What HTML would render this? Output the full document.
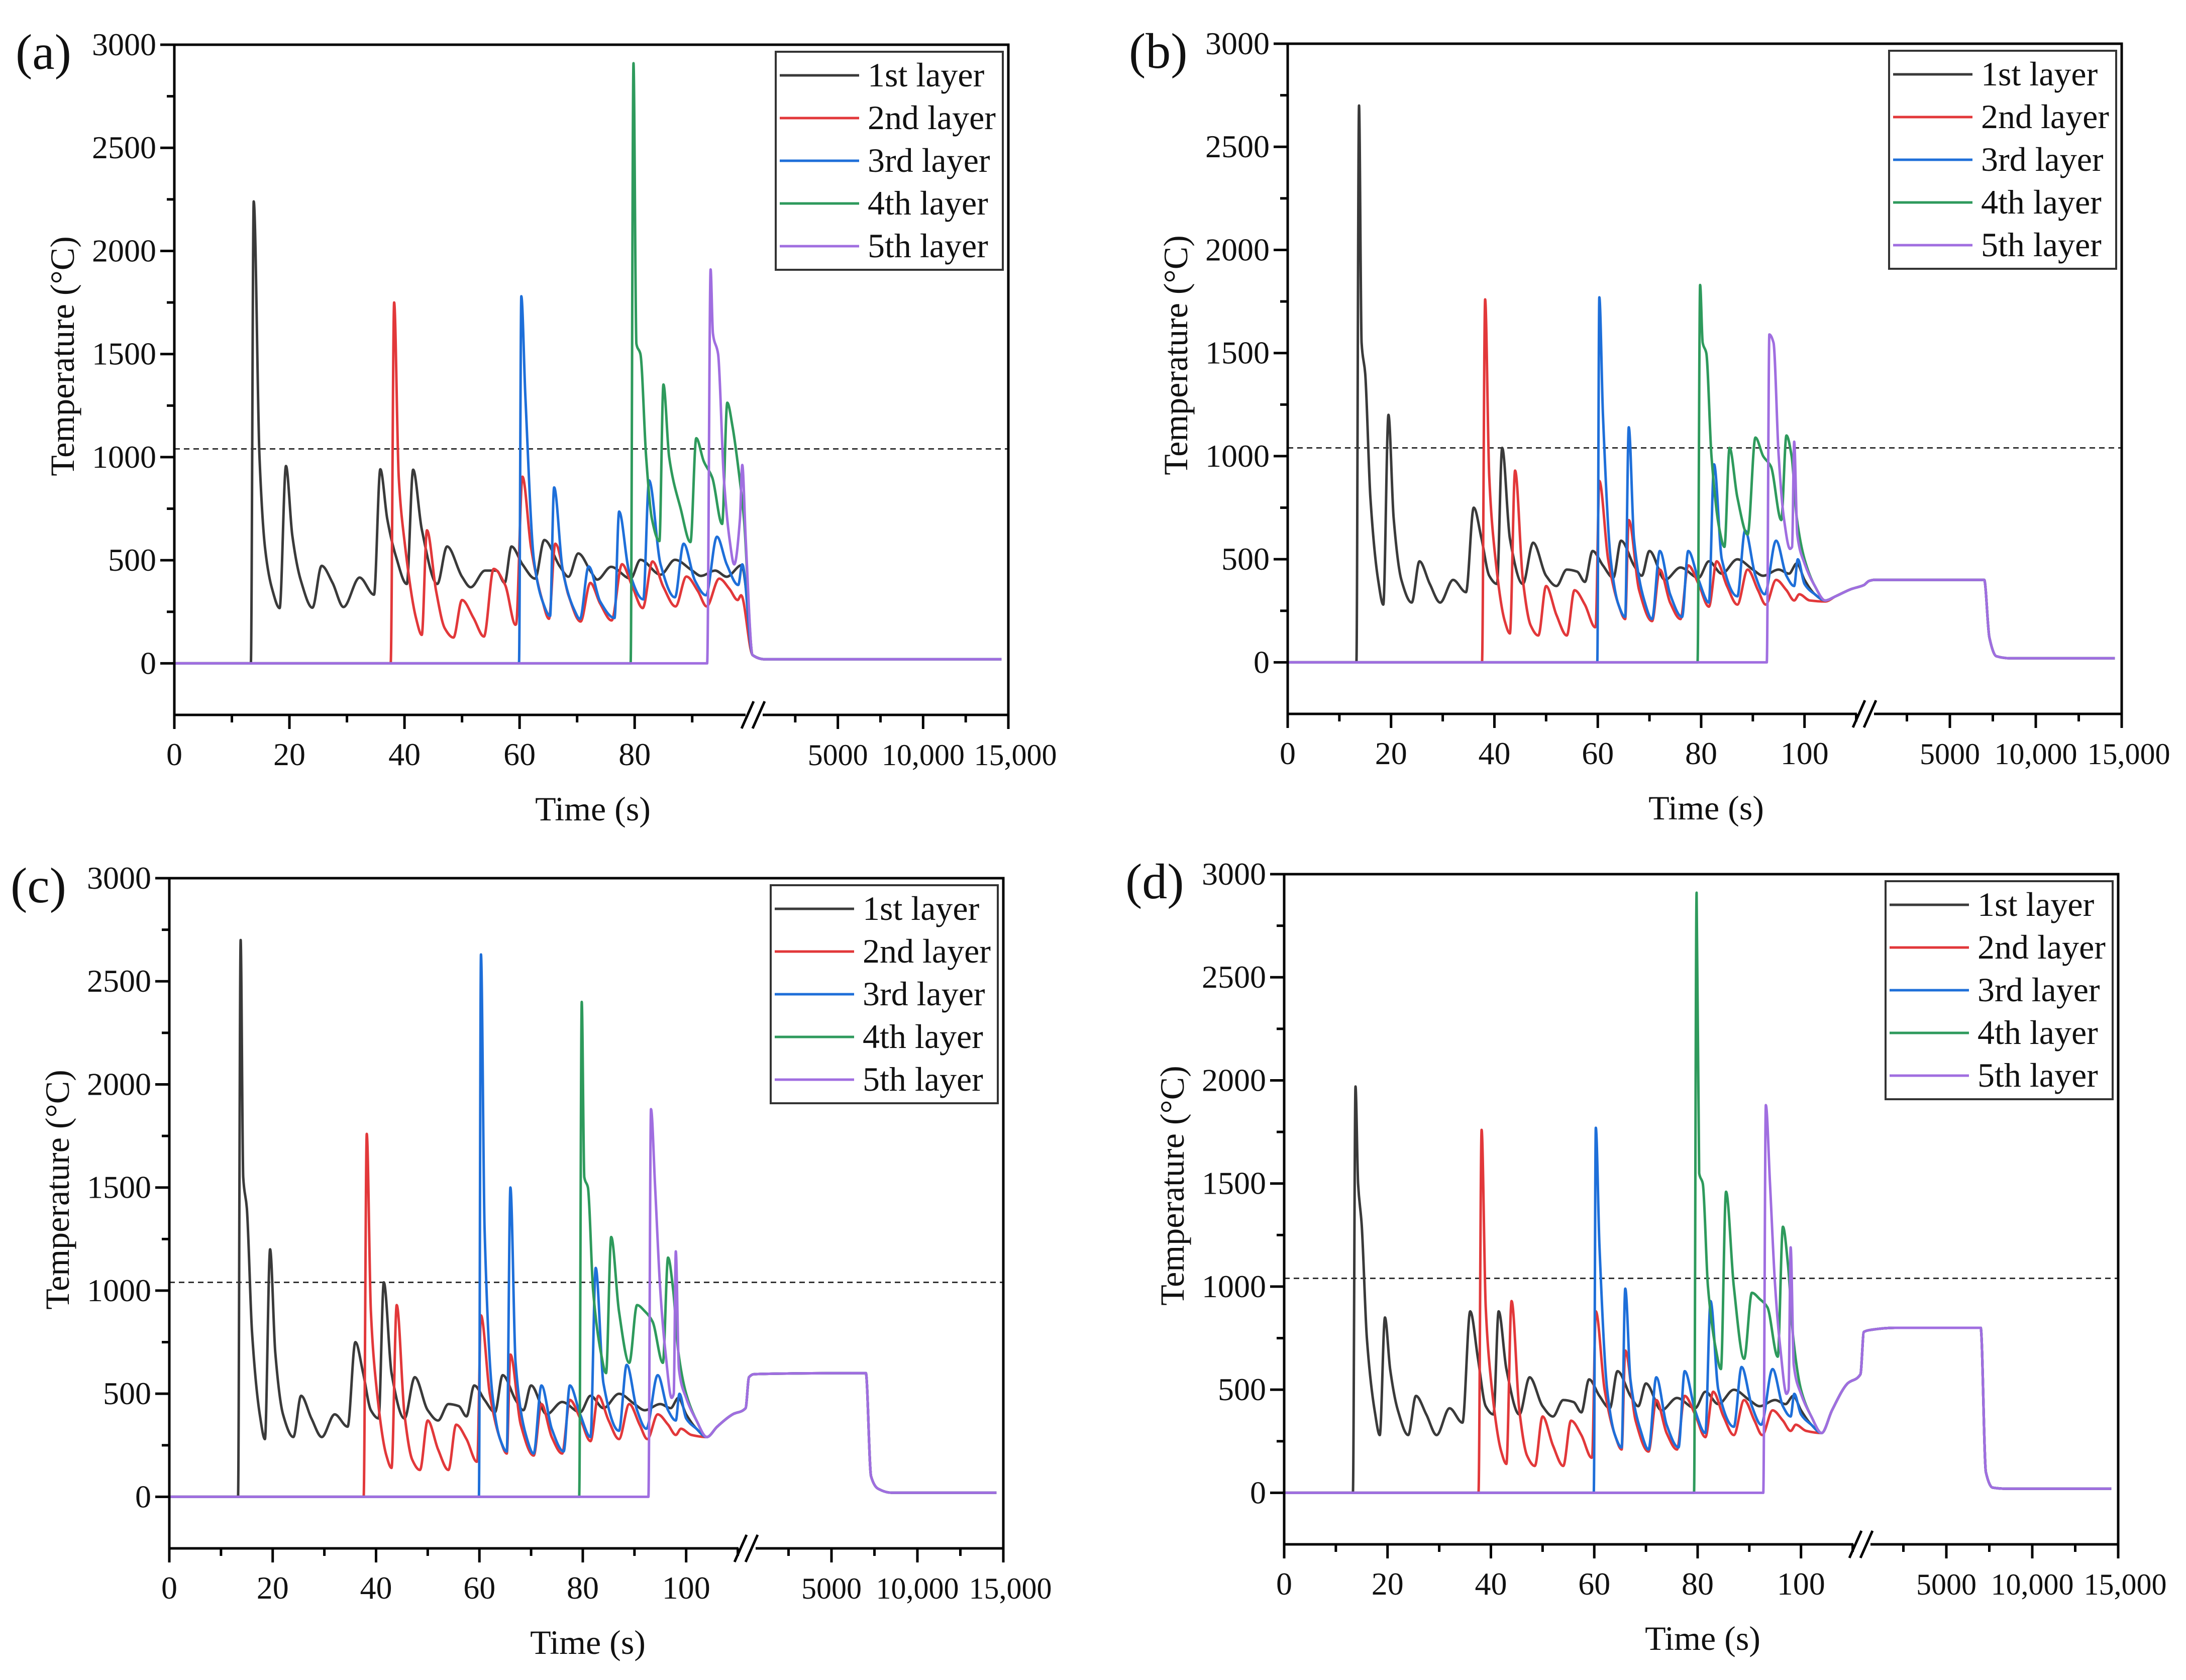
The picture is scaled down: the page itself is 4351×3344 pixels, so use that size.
<!DOCTYPE html>
<html><head><meta charset="utf-8">
<style>
html,body{margin:0;padding:0;background:#fff;}
svg{display:block;}
svg text{font-family:"Liberation Serif","Times New Roman",serif;}
</style></head>
<body>
<svg id="fig" width="4351" height="3344" viewBox="0 0 4351 3344" xmlns="http://www.w3.org/2000/svg" font-family="Liberation Serif, serif">
<rect width="4351" height="3344" fill="#fff"/>
</svg>
<script>
// ---------- data: panel (a) ----------
const aT1=[0,13.3,13.8,14.8,15.8,17,18.3,19.4,20.5,22,24,25.6,27.5,29.4,32.2,34.7,35.8,37,38.5,40.4,41.5,43,45.7,47.4,50,51.5,54,56,57.4,58.6,60.5,62.7,64.3,67,68.5,70.2,72.5,73.5,75.9,79.3,81,84.5,87,90,91.5,94,96,98.6,99.6,100.5];
const aV1=[0,0,2240,1000,550,360,268,957,620,400,270,473,390,273,416,333,941,700,520,385,939,650,385,567,420,369,450,450,390,567,480,411,598,470,420,533,440,406,468,411,502,430,502,450,424,450,420,476,300,40];
const aT2=[0,37.6,38.2,39,40,42,43,43.9,45.5,47,48.5,50,52,53.8,55.5,57.5,59.3,59.4,60.5,62,64,65.1,66.2,68.5,70.6,72.3,74,76,77.8,79.5,81.4,83.1,85,87.1,89,91,92.5,94.7,96.5,97.9,98.5,100.5];
const aV2=[0,0,1750,900,593,220,138,645,350,170,125,307,220,130,458,380,187,190,905,560,300,216,580,330,203,390,290,208,481,380,268,494,370,276,421,350,276,411,360,307,330,40];
const aT3=[0,59.9,60.3,61,62.5,64,65.3,66,67.5,69.5,70.5,72,74,76.5,77.3,79,81.5,82.5,84.5,87,88.5,90.5,92.4,94.3,96,98,98.7,100.5];
const aV3=[0,0,1780,1300,500,300,230,853,450,260,215,470,300,220,736,450,310,887,480,320,580,400,330,614,480,380,480,40];
const aT4=[0,79.3,79.8,80.3,81,82,83,84.3,85,86,88,89.7,90.7,92,93.5,95.2,96.1,97,98,99,100.5];
const aV4=[0,0,2910,1550,1500,1000,700,593,1352,1000,750,588,1092,980,900,676,1264,1150,950,700,40];
const aT5=[0,92.6,93.2,93.6,94.5,95.5,96.5,97.3,98.3,98.7,99.3,100.5];
const aV5=[0,0,1910,1600,1500,900,600,480,700,962,600,40];
const aLongT=[0,700,14600];
const aLongV=[35,20,20];
// ---------- shared time grids for panels (b),(c),(d) ----------
const T1=[0,13.3,13.8,14.3,15,16,17.5,18.5,19.5,20.5,22,24,25.5,27.5,29.5,32,34.5,36,37.5,39,40.5,41.5,43,45.5,47.5,50,52,54,56,57.5,59,61,63,64.5,67,68.5,70,73,76,79.5,81.5,84,87,90,92,95,97,98.5,100,102,104,106,109,111.5];
const T2=[0,37.6,38.2,39,40,42,43,44,45.5,47,48.5,50,52,54,55.5,57.5,59.5,59.6,60.3,62,64,65.3,66,68,70.5,72,74,76,77.5,79.5,81.5,83,85,87,89,91,92.5,94.5,96.5,98,99,101,104,106,109,111.5];
const T3=[0,59.9,60.3,61,62.5,64,65.3,66,67,69,70.5,72,74,76.3,77.5,79.5,81.5,82.5,84,87,88.5,90.5,92.3,94.5,96.5,98,98.7,100,102,104,106,109,111.5];
const T4=[0,79.3,79.8,80.3,81,82,83.5,84.5,85.5,87,89,90.5,92,93.5,95.5,96.5,97.5,98.5,100,102,104,106,109,111.5];
const T5=[0,92.7,93.2,94,95,96,97.2,97.6,98,98.6,100,102,104,106,109,111.5];
// ---------- panel (b) ----------
const bV1=[0,0,2700,1550,1400,800,400,280,1200,700,400,290,490,380,290,400,340,750,600,420,380,1040,600,380,580,420,370,450,440,390,540,470,410,590,470,420,540,400,460,410,490,430,500,450,420,450,430,480,400,330,300,320,355,375];
const bV2=[0,0,1760,900,550,200,140,930,400,180,130,370,230,130,350,280,170,175,880,500,280,210,690,350,200,450,290,210,470,380,270,490,370,280,450,350,280,400,350,300,330,300,295,320,355,375];
const bV3=[0,0,1770,1200,500,280,220,1140,600,300,210,540,330,220,540,400,290,960,500,320,640,420,330,590,420,370,500,380,330,300,320,355,375];
const bV4=[0,0,1830,1550,1500,1000,650,560,1040,800,620,1090,1000,950,690,1100,1000,700,500,370,300,320,355,375];
const bV5=[0,0,1590,1550,1000,700,550,560,1070,620,480,370,300,320,355,375];
const bLongT=[0,300,600,7000,7300,7700,8500,14600];
const bLongV=[375,395,400,400,120,30,20,20];
// ---------- panel (c) ----------
const cV1=[0,0,2700,1550,1400,800,400,280,1200,700,400,290,490,380,290,400,340,750,600,420,380,1040,600,380,580,420,370,450,440,390,540,470,410,590,470,420,540,400,460,410,490,430,500,450,420,450,430,480,400,330,290,340,400,430];
const cV2=[0,0,1760,900,550,200,140,930,400,180,130,370,230,130,350,280,170,175,880,500,280,210,690,350,200,450,290,210,470,380,270,490,370,280,450,350,280,400,350,300,330,300,290,340,400,430];
const cV3=[0,0,2630,1300,500,280,220,1500,650,300,210,540,330,220,540,400,290,1110,550,320,640,420,330,590,420,370,500,380,330,290,340,400,430];
const cV4=[0,0,2400,1550,1500,1000,700,600,1260,900,650,930,900,850,650,1160,1000,700,500,370,290,340,400,430];
const cV5=[0,0,1880,1500,1000,700,480,500,1190,620,480,370,290,340,400,430];
const cLongT=[0,200,500,7000,7300,7700,8500,14600];
const cLongV=[430,580,595,600,100,40,20,20];
// ---------- panel (d) ----------
const dV1=[0,0,1970,1500,1300,750,400,280,850,600,400,280,470,380,280,410,340,880,650,420,380,880,600,380,560,420,370,450,440,390,550,470,410,590,470,420,530,400,460,410,490,430,500,450,420,450,430,470,400,330,290,400,530,575];
const dV2=[0,0,1760,900,550,200,140,930,400,180,130,370,230,130,350,280,170,175,880,500,280,210,690,350,200,450,290,210,470,380,270,490,370,280,450,350,280,400,350,300,330,300,290,400,530,575];
const dV3=[0,0,1770,1200,500,280,220,990,550,300,210,560,330,220,590,400,290,930,500,320,610,420,330,600,420,370,480,380,330,290,400,530,575];
const dV4=[0,0,2910,1550,1500,1000,700,600,1460,1000,650,970,940,900,660,1290,1100,750,500,370,290,400,530,575];
const dV5=[0,0,1880,1500,1000,700,480,500,1190,620,480,370,290,400,530,575];
const dLongT=[0,200,600,2000,7000,7300,7700,8500,14600];
const dLongV=[575,780,790,800,800,100,25,20,20];
// ---------- ticks / labels ----------
const yTicks=[0,500,1000,1500,2000,2500,3000];
const longTicks=[5000,10000,15000];
const longTickLabels=["5000","10,000","15,000"];
const layerNames=["1st layer","2nd layer","3rd layer","4th layer","5th layer"];
const dashLevel=1040;

const colors=["#3a3a3a","#e2383a","#1e6fd9","#2e9a5c","#a06ee0"];
const FONT='"Liberation Serif", serif';
const NS="http://www.w3.org/2000/svg";
const svg=document.getElementById('fig');
function mk(tag,attrs,parent){const e=document.createElementNS(NS,tag);for(const k in attrs)e.setAttribute(k,attrs[k]);if(tag==='text')e.setAttribute('font-family',FONT);(parent||svg).appendChild(e);return e;}

const panels=[
 {id:'a',left:347,top:89,brk:1151,sMax:100.5,labelMax:80,minorMax:90,series:[[aT1,aV1],[aT2,aV2],[aT3,aV3],[aT4,aV4],[aT5,aV5]],lt:aLongT,lv:aLongV},
 {id:'b',left:2563,top:87,brk:1147,sMax:111.5,labelMax:100,minorMax:110,series:[[T1,bV1],[T2,bV2],[T3,bV3],[T4,bV4],[T5,bV5]],lt:bLongT,lv:bLongV},
 {id:'c',left:337,top:1748,brk:1147,sMax:111.5,labelMax:100,minorMax:110,series:[[T1,cV1],[T2,cV2],[T3,cV3],[T4,cV4],[T5,cV5]],lt:cLongT,lv:cLongV},
 {id:'d',left:2556,top:1740,brk:1147,sMax:111.5,labelMax:100,minorMax:110,series:[[T1,dV1],[T2,dV2],[T3,dV3],[T4,dV4],[T5,dV5]],lt:dLongT,lv:dLongV}
];
const W=1660,H=1334,YMIN=-250,YMAX=3000;

function monoPath(xs,ys){
  const X=[],Y=[];
  for(let i=0;i<xs.length;i++){ if(X.length&&xs[i]-X[X.length-1]<0.2) continue; X.push(xs[i]);Y.push(ys[i]); }
  const n=X.length; const d=[],m=[];
  for(let i=0;i<n-1;i++) d.push((Y[i+1]-Y[i])/(X[i+1]-X[i]));
  for(let i=0;i<n;i++){
    if(i===0) m.push(d[0]); else if(i===n-1) m.push(d[n-2]);
    else if(d[i-1]*d[i]<=0) m.push(0);
    else { const w1=2*(X[i+1]-X[i])+(X[i]-X[i-1]), w2=(X[i+1]-X[i])+2*(X[i]-X[i-1]); m.push((w1+w2)/(w1/d[i-1]+w2/d[i])); }
  }
  let p='M'+X[0].toFixed(1)+','+Y[0].toFixed(1);
  for(let i=0;i<n-1;i++){const h=X[i+1]-X[i];
    p+='C'+(X[i]+h/3).toFixed(1)+','+(Y[i]+m[i]*h/3).toFixed(1)+' '+(X[i+1]-h/3).toFixed(1)+','+(Y[i+1]-m[i+1]*h/3).toFixed(1)+' '+X[i+1].toFixed(1)+','+Y[i+1].toFixed(1);}
  return p;
}

panels.forEach(P=>{
  const g=mk('g',{});
  
  
  const L=P.left,T=P.top,B=T+H,R=L+W;
  const ys=v=>T+(YMAX-v)/(YMAX-YMIN)*H;
  const xs1=t=>L+t/P.sMax*P.brk;
  const xs2=t=>L+P.brk+t/15000*(W-P.brk);
  const dl=mk('line',{x1:L,x2:R,y1:ys(dashLevel),y2:ys(dashLevel),stroke:'#333','stroke-width':3,'stroke-dasharray':'11 8'},g);
  
  
  P.series.forEach((s,i)=>{
    const px=s[0].map(xs1).concat(P.lt.map(xs2));
    const py=s[1].map(ys).concat(P.lv.map(ys));
    const path=mk('path',{d:monoPath(px,py),fill:'none',stroke:colors[i],'stroke-width':5,'stroke-linejoin':'round'},g);
    
    
  });
  mk('path',{d:`M${L},${B}V${T}H${R}V${B}H${L}`,fill:'none',stroke:'#000','stroke-width':5},g);
  const bx=L+P.brk;
  mk('rect',{x:bx-14,y:B-6,width:34,height:12,fill:'#fff'},g);
  const brk=mk('g',{},g);
  
  
  mk('line',{x1:bx-22,y1:B+27,x2:bx+2,y2:B-27,stroke:'#000','stroke-width':5},brk);
  mk('line',{x1:bx+0,y1:B+27,x2:bx+24,y2:B-27,stroke:'#000','stroke-width':5},brk);
  for(let v=250;v<=2750;v+=500) mk('line',{x1:L-15,x2:L,y1:ys(v),y2:ys(v),stroke:'#000','stroke-width':5},g);
  yTicks.forEach(v=>{
    mk('line',{x1:L-28,x2:L,y1:ys(v),y2:ys(v),stroke:'#000','stroke-width':5},g);
    const t=mk('text',{x:L-36,y:ys(v)+21,'text-anchor':'end','font-size':64,fill:'#111'},g);
    t.textContent=v;
    
    
  });
  for(let v=0;v<=P.minorMax;v+=10){
    const major=v%20===0;
    mk('line',{x1:xs1(v),x2:xs1(v),y1:B,y2:B+(major?28:15),stroke:'#000','stroke-width':5},g);
    if(major&&v<=P.labelMax){
      const t=mk('text',{x:xs1(v),y:B+100,'text-anchor':'middle','font-size':64,fill:'#111'},g);
      t.textContent=v;
      
      
    }
  }
  for(let v=2500;v<=15000;v+=2500){
    const major=v%5000===0;
    mk('line',{x1:xs2(v),x2:xs2(v),y1:B,y2:B+(major?28:15),stroke:'#000','stroke-width':5},g);
  }
  longTicks.forEach((v,i)=>{
    const t=mk('text',{x:xs2(v)+(i===2?14:0),y:B+100,'text-anchor':'middle','font-size':60,fill:'#111'},g);
    t.textContent=longTickLabels[i];
    
    
  });
  const yt=mk('text',{x:0,y:0,'text-anchor':'middle','font-size':68,fill:'#111',transform:`translate(${L-200},${T+620}) rotate(-90)`},g);
  yt.textContent='Temperature (°C)';
  
  
  const xt=mk('text',{x:L+833,y:B+210,'text-anchor':'middle','font-size':68,fill:'#111'},g);
  xt.textContent='Time (s)';
  
  
  const pl=mk('text',{x:L-316,y:T+48,'font-size':100,fill:'#111'},g);
  pl.textContent='('+P.id+')';
  
  
  const lg=mk('g',{},g);
  
  
  const lx=L+1197,ly=T+14;
  mk('rect',{x:lx,y:ly,width:452,height:434,fill:'#fff',stroke:'#333','stroke-width':4},lg);
  layerNames.forEach((nm,i)=>{
    const e=mk('g',{},lg);
    
    
    const yy=ly+47+85*i;
    mk('line',{x1:lx+8,x2:lx+166,y1:yy,y2:yy,stroke:colors[i],'stroke-width':5},e);
    const t=mk('text',{x:lx+183,y:yy+22,'font-size':68,fill:'#111'},e);
    t.textContent=nm;
  });
});
</script>
</body></html>
